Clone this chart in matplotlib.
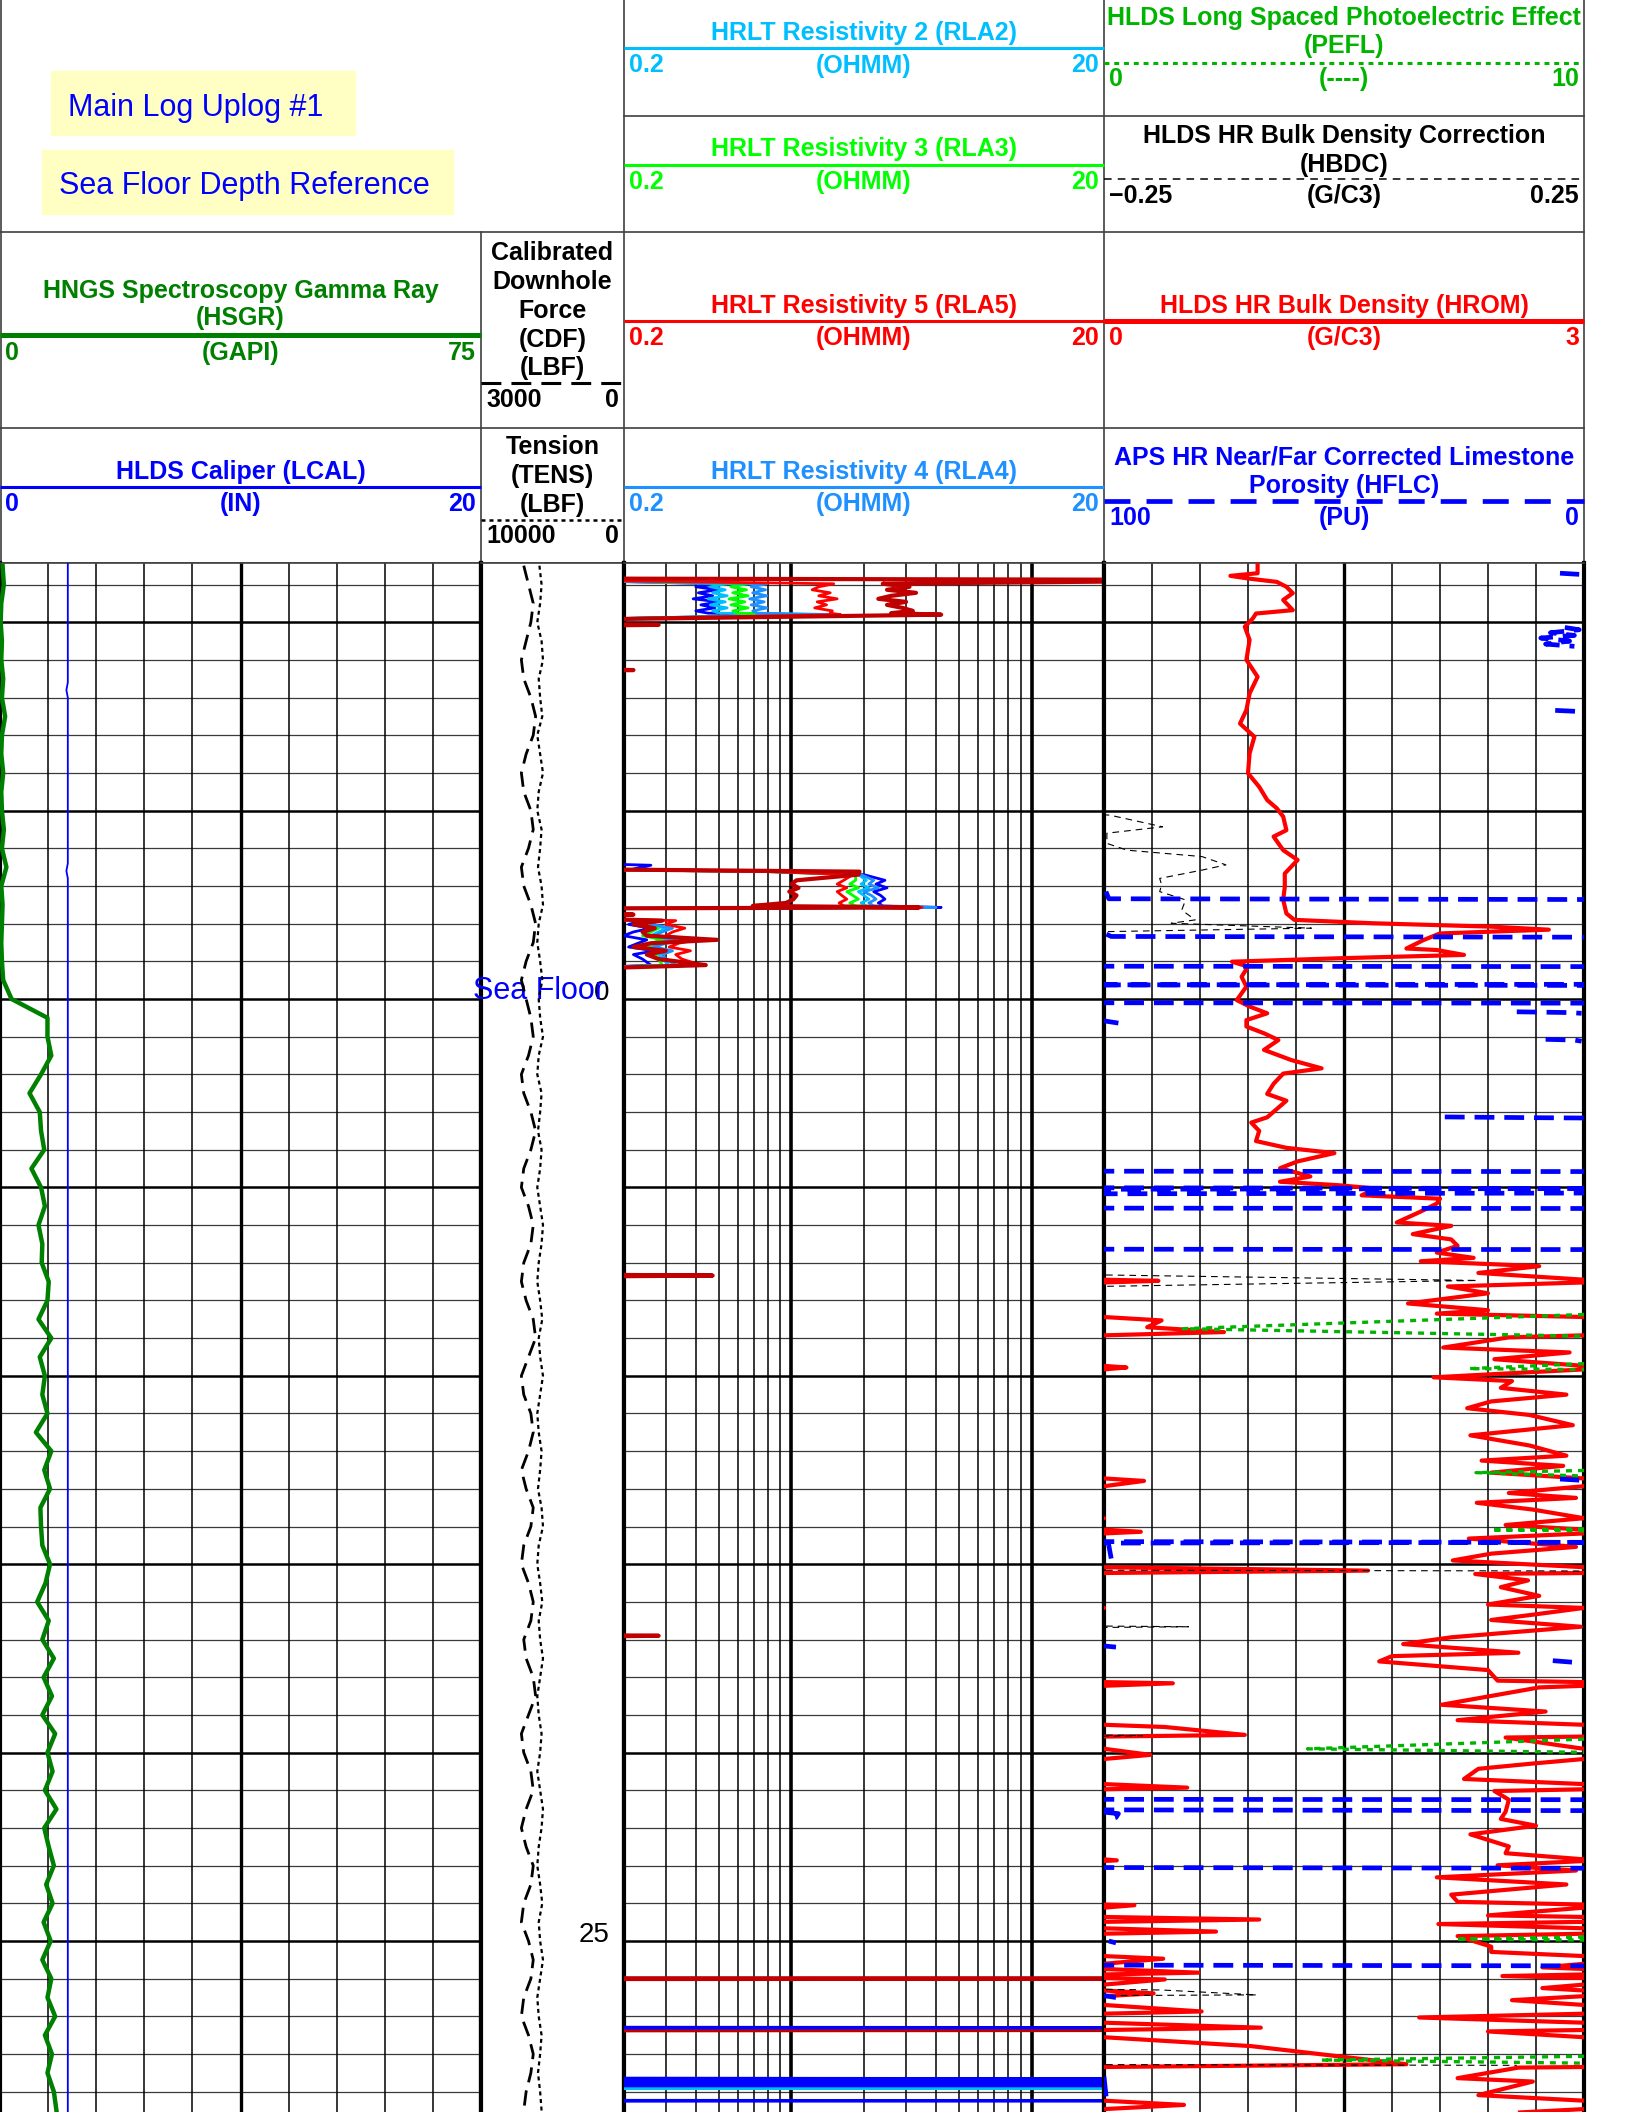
import numpy as np
import matplotlib
matplotlib.use("Agg")
import matplotlib.pyplot as plt
import matplotlib.transforms as mtransforms
from matplotlib.patches import Rectangle

plt.rcParams['font.family'] = ['Liberation Sans', 'DejaVu Sans']

nan = np.nan

# ---------------- data (depth below sea floor, sea floor = 0) ----------------

# track 1 : gamma ray, caliper
gr_depth = np.arange(-11.5, 29.51, 0.5)
hsgr = [0.4, 0.6, 0.2, 0.1, 0.3, 0.2, 0.5, 0.3, 0.8, 0.3,
        0.2, 0.5, 0.2, 0.3, 0.6, 0.3, 1.0, 0.2, 0.4, 0.3,
        0.2, 0.3, 0.5, 1.8, 7.4, 7.4, 8.0, 6.4, 4.6, 6.2,
        6.4, 6.9, 4.9, 6.4, 7.0, 6.0, 6.6, 6.5, 7.6, 7.4,
        6.0, 8.0, 6.2, 7.0, 6.6, 7.4, 5.6, 8.0, 6.9, 7.8,
        6.3, 6.4, 6.6, 7.8, 7.1, 5.8, 7.6, 6.6, 8.4, 6.8,
        8.1, 6.6, 8.6, 7.4, 8.2, 7.0, 8.8, 6.9, 7.6, 8.4,
        7.2, 8.2, 6.8, 7.9, 6.6, 8.0, 7.4, 8.6, 7.0, 8.1,
        7.4, 8.4, 8.8]

lcal_depth = [-11.57, -8.4, -8.2, -8.0, -3.6, -3.4, -3.2, 29.55]
lcal = [2.82, 2.82, 2.76, 2.82, 2.82, 2.76, 2.82, 2.82]

# depth track : downhole force, tension
cdf = [2100, 2000, 1900, 1950, 2050, 2150, 2100, 1950, 1850, 1900,
       2050, 2150, 2100, 1950, 1900, 2000, 2150, 2100, 1950, 1850,
       1900, 2050, 2150, 2050, 1950, 1900, 2000, 2150, 2100, 1950,
       1850, 1950, 2100, 2150, 2000, 1900, 1950, 2100, 2150, 2050,
       1900, 1850, 2000, 2150, 2100, 1950, 1900, 2000, 2150, 2050,
       1900, 1950, 2100, 2150, 2000, 1900, 1950, 2100, 2050, 1900,
       1850, 2000, 2150, 2100, 1950, 1900, 2050, 2150, 2050, 1900,
       1950, 2100, 2150, 2000, 1900, 1950, 2100, 2150, 2000, 1900,
       1950, 2050, 2100]
tens = [5900, 5750, 5850, 6050, 5750, 5650, 5950, 5850, 5700, 6050,
        5850, 5650, 5950, 6050, 5750, 5850, 6000, 5750, 5650, 5950,
        6050, 5850, 5700, 5950, 5850, 5650, 5950, 6050, 5750, 5850,
        6000, 5750, 5850, 6050, 5850, 5650, 5750, 5950, 6050, 5850,
        5700, 5950, 5850, 5650, 5850, 6050, 5950, 5750, 5850, 6000,
        5750, 5650, 5950, 6050, 5850, 5700, 5950, 5850, 5650, 5850,
        6050, 5950, 5750, 5850, 6050, 5850, 5650, 5750, 5950, 6050,
        5850, 5700, 5950, 5850, 5650, 5850, 6050, 5950, 5750, 5850,
        6000, 5850, 5750]

depth_labels = [0, 25]

# track 2 : resistivities (three logged blocks share the same depths)
res_depth = ([-11.16, -11.12, -11.02, -10.94, -10.86, -10.78, -10.70, -10.62,
              -10.54, -10.46, -10.38, -10.30, -10.24, -10.20, -10.06] + [nan]
             + [-3.62, -3.55, -3.45, -3.38, -3.30, -3.15, -3.05, -2.95,
                -2.85, -2.75, -2.65, -2.55, -2.47, -2.43, -2.40] + [nan]
             + [-2.16, -2.08, -1.98, -1.88, -1.78, -1.68, -1.57, -1.48,
                -1.38, -1.28, -1.18, -1.06, -0.90, -0.78])

rla1 = ([0.1, 0.1, 0.50, 0.40, 0.49, 0.41, 0.47, 0.39, 0.50, 0.42, 0.48, 0.40, 0.45, 1.1, 0.1] + [nan]
        + [0.1, 0.26, 0.22, 0.9, 2.0, 2.45, 2.25, 2.5, 2.2, 2.35, 2.45, 2.3, 2.4, 4.2, 0.1] + [nan]
        + [0.1, 0.24, 0.21, 0.26, 0.22, 0.20, 0.25, 0.23, 0.21, 0.27, 0.22, 0.24, 0.26, 0.1])
rla2 = ([0.1, 0.1, 0.54, 0.46, 0.53, 0.47, 0.54, 0.45, 0.53, 0.46, 0.54, 0.47, 0.50, 1.2, 0.1] + [nan]
        + [nan, nan, 0.1, 0.8, 1.9, 2.05, 1.95, 2.1, 1.9, 2.0, 2.1, 1.95, 2.05, 3.8, 0.1] + [nan]
        + [0.1, 0.27, 0.25, 0.30, 0.28, 0.26, 0.31, 0.28, 0.26, 0.30, 0.28, 0.29, 0.31, 0.1])
rla3 = ([0.1, 0.1, 0.66, 0.56, 0.65, 0.57, 0.66, 0.55, 0.64, 0.56, 0.66, 0.57, 0.60, 1.35, 0.1] + [nan]
        + [nan, nan, 0.1, 0.8, 1.85, 1.85, 1.75, 1.9, 1.7, 1.8, 1.9, 1.75, 1.85, 3.6, 0.1] + [nan]
        + [0.1, 0.26, 0.24, 0.28, 0.26, 0.24, 0.29, 0.26, 0.25, 0.29, 0.27, 0.28, 0.29, 0.1])
rla4 = ([0.1, 0.1, 0.79, 0.68, 0.78, 0.69, 0.79, 0.67, 0.77, 0.68, 0.79, 0.69, 0.72, 1.55, 0.1] + [nan]
        + [nan, nan, 0.1, 0.85, 1.95, 2.2, 2.1, 2.3, 2.0, 2.15, 2.25, 2.1, 2.2, 4.0, 0.1] + [nan]
        + [0.1, 0.28, 0.26, 0.32, 0.29, 0.27, 0.33, 0.30, 0.27, 0.32, 0.29, 0.30, 0.33, 0.1])
rla5 = ([0.1, 0.1, 1.50, 1.30, 1.22, 1.45, 1.30, 1.55, 1.28, 1.40, 1.25, 1.48, 1.45, 1.6, 0.1] + [nan]
        + [nan, nan, 0.1, 0.8, 1.8, 1.65, 1.55, 1.7, 1.55, 1.62, 1.7, 1.58, 1.65, 3.5, 0.1] + [nan]
        + [0.1, 0.33, 0.30, 0.36, 0.32, 0.30, 0.40, 0.34, 0.31, 0.38, 0.33, 0.35, 0.42, 0.1])
rla0 = ([0.1, 100, 2.4, 3.1, 2.5, 3.3, 2.6, 2.3, 3.0, 2.5, 2.9, 3.2, 2.6, 4.2, 0.1] + [nan]
        + [nan, nan, 0.1, 1.92, 1.9, 1.05, 1.0, 1.07, 0.98, 1.05, 1.02, 0.95, 0.69, 3.4, 0.1] + [nan]
        + [0.1, 0.29, 0.22, 0.27, 0.24, 0.25, 0.49, 0.26, 0.22, 0.30, 0.25, 0.28, 0.44, 0.1])

# isolated readings further down
rla0_extra_depth = [-9.96, -9.93, -9.90, nan, -8.76, -8.73, -8.70, nan, -2.27, -2.24, -2.21, nan,
                    7.31, 7.34, 7.37, nan, 16.87, 16.90, 16.93, nan, 25.99, 26.00, 26.01, nan,
                    27.35, 27.36, 27.37]
rla0_extra = [0.1, 0.28, 0.1, nan, 0.1, 0.22, 0.1, nan, 0.1, 0.22, 0.1, nan,
              0.1, 0.47, 0.1, nan, 0.1, 0.28, 0.1, nan, 0.1, 100, 0.1, nan,
              0.1, 100, 0.1]
rla1_extra_depth = [27.29, 27.30, 27.31, nan, 28.64, 28.66, 28.68, 28.70, 28.72, 28.74, 28.76,
                    28.78, 28.80, 28.82, 28.84, 28.86, 28.88, nan, 29.23, 29.24, 29.25]
rla1_extra = [0.1, 100, 0.1, nan, 0.1, 100, 0.1, 100, 0.1, 100, 0.1,
              100, 0.1, 100, 0.1, 100, 0.1, nan, 0.1, 100, 0.1]
rla2_extra_depth = [28.91, 28.92, 28.93]
rla2_extra = [0.1, 100, 0.1]

# track 3 : bulk density (depth, g/c3)
hrom_pairs = [
    (-11.57, 0.96), (-11.30, 0.96), (-11.23, 0.79), (-11.16, 0.90), (-11.07, 1.08), (-10.94, 1.14),
    (-10.77, 1.18), (-10.59, 1.12), (-10.32, 1.18), (-10.23, 0.95), (-10.10, 0.93), (-9.88, 0.88),
    (-9.53, 0.91), (-9.00, 0.89), (-8.55, 0.96), (-8.11, 0.91), (-7.67, 0.89), (-7.31, 0.85),
    (-6.96, 0.94), (-6.52, 0.91), (-5.99, 0.90), (-5.63, 0.97), (-5.28, 1.02), (-5.06, 1.08),
    (-4.84, 1.12), (-4.48, 1.14), (-4.31, 1.06), (-3.95, 1.12), (-3.69, 1.21), (-3.33, 1.13),
    (-2.98, 1.13), (-2.63, 1.12), (-2.27, 1.14), (-2.10, 1.19), (-2.01, 1.68), (-1.92, 2.42),
    (-1.84, 2.78), (-1.74, 2.10), (-1.57, 2.00), (-1.34, 1.89), (-1.30, 2.08), (-1.17, 2.25),
    (-1.08, 1.46), (-0.99, 0.80), (-0.86, 0.90), (-0.59, 0.86), (-0.33, 0.89), (0.03, 0.83),
    (0.20, 0.91), (0.38, 1.02), (0.56, 0.89), (0.73, 0.89), (0.91, 1.00), (1.09, 1.09),
    (1.35, 1.00), (1.62, 1.17), (1.84, 1.36), (1.98, 1.12), (2.25, 1.06), (2.52, 1.02),
    (2.70, 1.14), (2.92, 1.08), (3.14, 1.02), (3.28, 0.92), (3.50, 0.97), (3.77, 0.95),
    (3.95, 1.14), (4.09, 1.44), (4.31, 1.21), (4.49, 1.10), (4.71, 1.29), (4.85, 1.10),
    (4.94, 1.46), (5.03, 1.70), (5.21, 1.61), (5.30, 2.10), (5.43, 2.08), (5.66, 1.97),
    (5.93, 1.83), (6.02, 2.17), (6.24, 1.93), (6.38, 2.17), (6.55, 2.21), (6.73, 2.08),
    (6.87, 2.31), (6.96, 1.98), (7.09, 2.72), (7.27, 2.34), (7.45, 3.00), (7.48, 3.34),
    (7.63, 2.15), (7.81, 2.40), (8.08, 1.90), (8.26, 2.40), (8.35, 2.08), (8.44, 3.00),
    (8.53, 3.36), (8.71, 3.27), (8.84, 3.75), (8.98, 2.53), (9.25, 2.12), (9.38, 2.91),
    (9.56, 2.44), (9.78, 3.14), (9.83, 3.00), (10.04, 2.06), (10.14, 2.55), (10.32, 2.48),
    (10.50, 2.89), (10.68, 2.42), (10.86, 2.27), (11.04, 2.66), (11.31, 2.93), (11.58, 2.29),
    (11.85, 2.66), (12.12, 2.89), (12.25, 2.36), (12.39, 2.87), (12.57, 2.42), (12.79, 3.25),
    (12.93, 3.00), (13.11, 2.53), (13.24, 2.95), (13.37, 2.33), (13.55, 2.68), (13.78, 3.00),
    (13.96, 2.51), (14.14, 3.23), (14.32, 2.28), (14.54, 2.95), (14.72, 2.42), (14.90, 2.18),
    (15.08, 3.00), (15.17, 4.65), (15.26, 2.32), (15.43, 2.65), (15.61, 2.48), (15.84, 2.72),
    (16.07, 2.40), (16.16, 3.00), (16.34, 2.68), (16.48, 2.42), (16.66, 2.98), (16.80, 2.57),
    (16.94, 2.17), (17.12, 1.87), (17.35, 2.59), (17.44, 1.80), (17.58, 1.72), (17.81, 2.40),
    (18.09, 2.46), (18.16, 3.43), (18.27, 2.72), (18.73, 2.11), (18.91, 2.76), (19.14, 2.21),
    (19.32, 3.38), (19.53, 3.88), (19.60, 2.51), (19.87, 2.95), (20.06, 3.29), (20.29, 2.68),
    (20.43, 2.34), (20.70, 2.25), (20.93, 3.52), (21.02, 2.44), (21.25, 2.53), (21.57, 2.51),
    (21.76, 2.48), (21.94, 2.70), (22.17, 2.29), (22.49, 2.53), (22.67, 2.51), (22.86, 3.08),
    (22.99, 2.46), (23.13, 2.95), (23.31, 2.08), (23.50, 2.89), (23.77, 2.17), (23.96, 2.21),
    (24.05, 3.19), (24.32, 2.40), (24.43, 3.97), (24.55, 2.09), (24.75, 3.70), (24.87, 2.21),
    (25.15, 2.42), (25.29, 2.42), (25.47, 3.37), (25.70, 2.74), (25.84, 3.59), (25.93, 2.49),
    (26.02, 3.38), (26.25, 2.74), (26.39, 3.31), (26.57, 2.55), (26.87, 3.61), (27.03, 1.97),
    (27.30, 3.98), (27.40, 2.40), (27.79, 3.92), (28.27, 4.89), (28.36, 2.59), (28.64, 2.21),
    (28.73, 2.68), (29.09, 2.34), (29.35, 3.50), (29.55, 2.60),
]

# track 3 : neutron porosity (depth, PU), nan pairs are gaps
hflc_pairs = [
    (-11.30, 5.0), (-11.27, 1.0), (nan, nan),
    (-9.86, 4.0), (-9.80, 1.0), (-9.72, 7.0), (-9.65, 2.0), (-9.58, 9.0), (-9.50, 3.0),
    (-9.42, 8.0), (-9.36, 2.0), (nan, nan),
    (-7.66, 6.0), (-7.63, 1.0), (-7.56, 0.5), (nan, nan),
    (-2.85, 99.6), (-2.66, 99.0), (-2.64, -2.0), (nan, nan),
    (-1.72, 99.5), (-1.66, 98.5), (-1.64, -2.0), (nan, nan),
    (-0.87, 102.0), (-0.86, -2.0), (nan, nan),
    (-0.39, -2.0), (-0.375, 102.0), (-0.36, -2.0), (nan, nan),
    (0.10, 102.0), (0.11, -2.0), (nan, nan),
    (0.34, 14.0), (0.36, 3.0), (0.38, 0.5), (nan, nan),
    (0.58, 100.0), (0.64, 97.0), (nan, nan),
    (1.07, 8.0), (1.09, 2.0), (1.12, 0.5), (nan, nan),
    (3.13, 29.0), (3.15, 10.0), (3.16, -2.0), (nan, nan),
    (4.57, 102.0), (4.58, -2.0), (nan, nan),
    (5.01, 102.0), (5.03, -2.0), (5.05, 102.0), (nan, nan),
    (5.15, -2.0), (5.17, 102.0), (nan, nan),
    (5.55, 102.0), (5.56, -2.0), (nan, nan),
    (6.64, 102.0), (6.65, -2.0), (nan, nan),
    (12.74, 5.0), (12.77, 1.0), (nan, nan),
    (14.40, 102.0), (14.42, -2.0), (14.44, 102.0), (nan, nan),
    (14.50, 99.0), (14.85, 98.5), (nan, nan),
    (17.17, 100.0), (17.20, 97.5), (nan, nan),
    (17.56, 6.5), (17.60, 2.5), (nan, nan),
    (21.24, 102.0), (21.25, -2.0), (nan, nan),
    (21.52, 102.0), (21.54, -2.0), (nan, nan),
    (21.58, 100.0), (21.62, 97.0), (21.72, 97.5), (21.80, 99.5), (nan, nan),
    (23.05, 102.0), (23.07, -2.0), (nan, nan),
    (25.00, 99.0), (25.05, 97.5), (nan, nan),
    (25.64, 102.0), (25.66, -2.0), (nan, nan),
    (26.45, 100.0), (26.50, 97.5), (nan, nan),
    (28.60, 100.0), (29.20, 99.5),
]

# track 3 : density correction (depth, g/c3)
hbdc_pairs = [
    (-4.95, -0.30), (-4.88, -0.244), (-4.57, -0.189), (-4.40, -0.247), (-4.13, -0.247),
    (-3.95, -0.226), (-3.78, -0.148), (-3.56, -0.123), (-3.42, -0.148), (-3.20, -0.192),
    (-3.03, -0.190), (-2.85, -0.192), (-2.63, -0.165), (-2.36, -0.169), (-2.10, -0.155),
    (-2.01, -0.180), (-1.88, -0.034), (-1.79, -0.244), (-1.75, -0.30), (nan, nan),
    (7.32, -0.26), (7.47, 0.139), (7.63, -0.26), (nan, nan),
    (15.16, -0.26), (15.18, 0.26), (nan, nan),
    (16.64, -0.26), (16.66, -0.162), (16.68, -0.26), (nan, nan),
    (19.53, -0.26), (19.55, -0.21), (19.57, -0.26), (nan, nan),
    (26.28, -0.26), (26.30, -0.19), (26.43, -0.091), (26.45, -0.26), (nan, nan),
    (28.28, -0.26), (28.30, 0.18),
]

# track 3 : photoelectric factor (depth, value)
pefl_pairs = [
    (8.35, 10.5), (8.75, 1.65), (8.96, 10.5), (nan, nan),
    (9.65, 10.5), (9.81, 7.6), (9.84, 10.5), (nan, nan),
    (12.50, 10.5), (12.57, 7.75), (12.68, 10.5), (nan, nan),
    (14.06, 10.5), (14.09, 8.07), (14.12, 10.5), (nan, nan),
    (19.62, 10.5), (19.90, 4.24), (20.00, 10.5), (nan, nan),
    (24.88, 10.5), (24.95, 7.33), (24.98, 10.5), (nan, nan),
    (28.05, 10.5), (28.16, 4.52), (28.25, 10.5),
]

hrom_depth, hrom = np.array(hrom_pairs).T
hflc_depth, hflc = np.array(hflc_pairs).T
hbdc_depth, hbdc = np.array(hbdc_pairs).T
pefl_depth, pefl = np.array(pefl_pairs).T


# ---------------- layout (pixels) ----------------

W, H = 1632, 2112
LOG_TOP = 563
DEPTH0_PX = 999
PX_PER_UNIT = 37.68
depth_top = (LOG_TOP - DEPTH0_PX) / PX_PER_UNIT
depth_bottom = (H - DEPTH0_PX) / PX_PER_UNIT

T1 = (0, 481)
TD = (481, 623.5)
T2 = (623.5, 1104)
T3 = (1104, 1584)

fig = plt.figure(figsize=(W / 100, H / 100), dpi=100)


def px_rect(x0, y0, x1, y1):
    return [x0 / W, 1 - y1 / H, (x1 - x0) / W, (y1 - y0) / H]


# header drawn in pixel coordinates
hdr = fig.add_axes([0, 0, 1, 1])
hdr.set_xlim(0, W)
hdr.set_ylim(H, 0)
hdr.axis('off')

border = dict(color='#404040', lw=1.2)
for y in [232, 428, LOG_TOP]:
    hdr.plot([0, T3[1]], [y, y], **border)
hdr.plot([T2[0], T3[1]], [116, 116], **border)
for x in [0.5, T2[0], T3[0], T3[1]]:
    hdr.plot([x, x], [0, LOG_TOP], **border)
hdr.plot([TD[0], TD[0]], [232, LOG_TOP], **border)

hdr.add_patch(Rectangle((51, 71), 304, 64, color='#FFFFC4', zorder=1))
hdr.add_patch(Rectangle((42, 150), 411, 64, color='#FFFFC4', zorder=1))
hdr.text(68, 108, 'Main Log Uplog #1', color='#0000FF', fontsize=22, va='center', zorder=2)
hdr.text(59, 186, 'Sea Floor Depth Reference', color='#0000FF', fontsize=22, va='center', zorder=2)

FS = 18


def curve_head(track, titles, title_ys, line_y, label_y, lo, unit, hi, color,
               lw, dashes=None, text_color=None):
    x0, x1 = track
    tc = color if text_color is None else text_color
    cx = (x0 + x1) / 2
    for t, ty in zip(titles, title_ys):
        hdr.text(cx, ty, t, ha='center', va='center', color=tc, fontsize=FS, fontweight='bold')
    ln, = hdr.plot([x0, x1], [line_y, line_y], color=color, lw=lw, solid_capstyle='butt')
    if dashes:
        ln.set_dashes(dashes)
    hdr.text(x0 + 5, label_y, lo, ha='left', va='center', color=tc, fontsize=FS, fontweight='bold')
    if unit:
        hdr.text(cx, label_y, unit, ha='center', va='center', color=tc, fontsize=FS, fontweight='bold')
    hdr.text(x1 - 5, label_y, hi, ha='right', va='center', color=tc, fontsize=FS, fontweight='bold')


curve_head(T2, ['HRLT Resistivity 2 (RLA2)'], [33], 48, 65.5, '0.2', '(OHMM)', '20', '#00BFFF', 2.2)
curve_head(T2, ['HRLT Resistivity 3 (RLA3)'], [149], 165, 182, '0.2', '(OHMM)', '20', '#00FF00', 2.2)
curve_head(T3, ['HLDS Long Spaced Photoelectric Effect', '(PEFL)'], [18, 46], 62.5, 79,
           '0', '(----)', '10', '#00B400', 2.2, dashes=(1.6, 1.6))
curve_head(T3, ['HLDS HR Bulk Density Correction', '(HBDC)'], [136, 165], 179, 196,
           '\u22120.25', '(G/C3)', '0.25', 'black', 1.1, dashes=(5, 4))
curve_head(T1, ['HNGS Spectroscopy Gamma Ray', '(HSGR)'], [291, 318], 334.5, 353,
           '0', '(GAPI)', '75', '#008000', 3.6)
curve_head(T2, ['HRLT Resistivity 5 (RLA5)'], [305.5], 320.7, 338, '0.2', '(OHMM)', '20', '#FF0000', 2.2)
curve_head(T3, ['HLDS HR Bulk Density (HROM)'], [305.5], 320.7, 338, '0', '(G/C3)', '3', '#FF0000', 3.6)
curve_head(T1, ['HLDS Caliper (LCAL)'], [472], 486.5, 504, '0', '(IN)', '20', '#0000FF', 2.2)
curve_head(T2, ['HRLT Resistivity 4 (RLA4)'], [472], 486.5, 504, '0.2', '(OHMM)', '20', '#1E90FF', 2.2)
curve_head(T3, ['APS HR Near/Far Corrected Limestone', 'Porosity (HFLC)'], [457.5, 485.5], 501, 518,
           '100', '(PU)', '0', '#0000FF', 3.4, dashes=(5.5, 3.4))
curve_head(TD, ['Calibrated', 'Downhole', 'Force', '(CDF)', '(LBF)'], [253, 282, 311, 340, 368],
           382.5, 400, '3000', None, '0', 'black', 2.2, dashes=(6.5, 3.3))
curve_head(TD, ['Tension', '(TENS)', '(LBF)'], [447, 476, 505], 520, 536,
           '10000', None, '0', 'black', 1.8, dashes=(1.6, 1.6))


# ---------------- log tracks ----------------

def track_axes(track):
    ax = fig.add_axes(px_rect(track[0], LOG_TOP, track[1], H))
    ax.set_ylim(depth_bottom, depth_top)
    ax.set_xticks([])
    ax.set_yticks([])
    ax.spines['bottom'].set_visible(False)
    ax.spines['top'].set_color('#404040')
    ax.spines['top'].set_linewidth(1.2)
    for s in ['left', 'right']:
        ax.spines[s].set_linewidth(3.0)
        ax.spines[s].set_color('black')
    return ax


def twin(ax, lo, hi):
    t = ax.twiny()
    t.set_xlim(lo, hi)
    t.axis('off')
    return t


def depth_grid(ax):
    for d in range(-11, 30):
        if d % 5 == 0:
            ax.axhline(d, color='black', lw=1.8, zorder=1)
        else:
            ax.axhline(d, color='#3a3a3a', lw=0.9, zorder=1)


def linear_grid(ax, lo, hi):
    for i in range(1, 10):
        ax.axvline(lo + i * (hi - lo) / 10, color='black', lw=2.4 if i == 5 else 1.1, zorder=1)


ax1 = track_axes(T1)
ax1.set_xlim(0, 75)
depth_grid(ax1)
linear_grid(ax1, 0, 75)
ax1.plot(hsgr, gr_depth, color='#008000', lw=3.2, zorder=4)
t_cal = twin(ax1, 0, 20)
t_cal.plot(lcal, lcal_depth, color='#0000FF', lw=1.3)

axd = track_axes(TD)
axd.set_xlim(0, 1)
t_cdf = twin(axd, 3000, 0)
cdf_line, = t_cdf.plot(cdf, gr_depth, color='black', lw=2.0)
cdf_line.set_dashes((5.5, 3))
t_tens = twin(axd, 10000, 0)
tens_line, = t_tens.plot(tens, gr_depth, color='black', lw=1.6)
tens_line.set_dashes((1.8, 1.6))
lbl_tr = mtransforms.blended_transform_factory(axd.transAxes, axd.transData)
for d in depth_labels:
    axd.text(0.90, d - 0.15, str(d), transform=lbl_tr, ha='right', va='center', fontsize=20)
axd.text(0.41, -0.2, 'Sea Floor', transform=lbl_tr, ha='center', va='center',
         fontsize=22, color='#0000FF', clip_on=False, zorder=10)

ax2 = track_axes(T2)
ax2.set_xscale('log')
ax2.set_xlim(0.2, 20)
ax2.set_xticks([])
ax2.set_xticks([], minor=True)
depth_grid(ax2)
for v in [0.3, 0.4, 0.5, 0.6, 0.7, 0.8, 0.9, 2, 3, 4, 5, 6, 7, 8, 9]:
    ax2.axvline(v, color='black', lw=1.1, zorder=1)
for v in [1, 10]:
    ax2.axvline(v, color='black', lw=2.6, zorder=1)
ax2.plot(rla1, res_depth, color='#0000FF', lw=2.0, zorder=3)
ax2.plot(rla2, res_depth, color='#00BFFF', lw=2.0, zorder=3)
ax2.plot(rla3, res_depth, color='#00FF00', lw=2.0, zorder=3)
ax2.plot(rla4, res_depth, color='#1E90FF', lw=2.0, zorder=3)
ax2.plot(rla5, res_depth, color='#FF0000', lw=2.0, zorder=3)
ax2.plot(rla0, res_depth, color='#C00000', lw=3.0, zorder=4)
ax2.plot(rla0_extra, rla0_extra_depth, color='#C00000', lw=3.0, zorder=4)
ax2.plot(rla1_extra, rla1_extra_depth, color='#0000FF', lw=2.2, zorder=4)
ax2.plot(rla2_extra, rla2_extra_depth, color='#00BFFF', lw=1.5, zorder=4)

ax3 = track_axes(T3)
ax3.set_xlim(0, 3)
depth_grid(ax3)
linear_grid(ax3, 0, 3)
ax3.plot(hrom, hrom_depth, color='#FF0000', lw=3.0, zorder=4)
ax3.plot(hrom - 3, hrom_depth, color='#FF0000', lw=3.0, zorder=4)   # wrapped backup
t_pefl = twin(ax3, 0, 10)
pefl_line, = t_pefl.plot(pefl, pefl_depth, color='#00B400', lw=2.4)
pefl_line.set_dashes((1.8, 1.8))
t_hbdc = twin(ax3, -0.25, 0.25)
hbdc_line, = t_hbdc.plot(hbdc, hbdc_depth, color='black', lw=0.8)
hbdc_line.set_dashes((6, 4.5))
t_hflc = twin(ax3, 100, 0)
hflc_line, = t_hflc.plot(hflc, hflc_depth, color='#0000FF', lw=3.4)
hflc_line.set_dashes((4.2, 2.1))

fig.savefig('out.png', dpi=100)
